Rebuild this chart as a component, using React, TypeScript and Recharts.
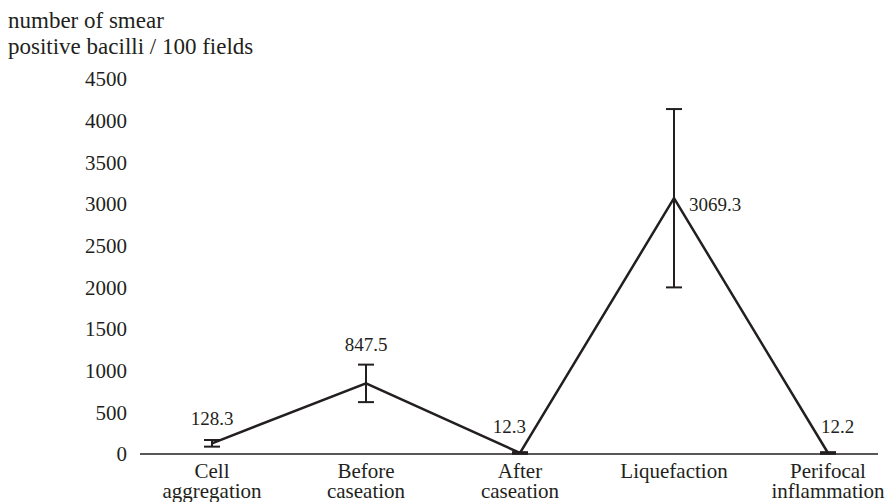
import { ErrorBar, LabelList, Line, LineChart, XAxis, YAxis } from "recharts";

const categories = ["Cell aggregation", "Before caseation", "After caseation", "Liquefaction", "Perifocal inflammation"];
const bacilli = [128.3, 847.5, 12.3, 3069.3, 12.2];
const errors = [40, 225, 10, 1070, 10];
const yTicks = [0, 500, 1000, 1500, 2000, 2500, 3000, 3500, 4000, 4500];

const data = categories.map((name, i) => ({ name, value: bacilli[i], err: errors[i] }));

const FONT = "'Liberation Serif', 'DejaVu Serif', serif";
const INK = "#231f20";

// where each value label sits relative to its point
const labelPlacement = [
  { dx: 0, dy: -18, anchor: "middle" },
  { dx: 0, dy: -32, anchor: "middle" },
  { dx: 6, dy: -20, anchor: "end" },
  { dx: 15, dy: 13, anchor: "start" },
  { dx: -7, dy: -20, anchor: "start" },
];

function ValueLabel(props: any) {
  const { x, y, index, value } = props;
  const p = labelPlacement[index];
  return (
    <text x={x + p.dx} y={y + p.dy} textAnchor={p.anchor} fontSize={19} fontFamily={FONT} fill={INK}>
      {value}
    </text>
  );
}

function CategoryTick(props: any) {
  const { x, y, payload } = props;
  const lines = String(payload.value).split(" ");
  return (
    <text x={x} y={y} textAnchor="middle" fontSize={21} fontFamily={FONT} fill={INK}>
      {lines.map((line, i) => (
        <tspan key={i} x={x} dy={i === 0 ? 16 : 20}>
          {line}
        </tspan>
      ))}
    </text>
  );
}

export default function App() {
  return (
    <div style={{ position: "absolute", left: 0, top: 0, width: 892, height: 502, background: "#fff" }}>
      <div
        style={{
          position: "absolute",
          left: 8,
          top: 8,
          fontFamily: FONT,
          fontSize: 23,
          lineHeight: "26px",
          color: INK,
        }}
      >
        number of smear
        <br />
        positive bacilli / 100 fields
      </div>
      <LineChart width={892} height={502} data={data} margin={{ top: 79, right: 14, bottom: 0, left: 0 }}>
        <XAxis
          dataKey="name"
          height={48}
          padding={{ left: 72, right: 50 }}
          axisLine={{ stroke: INK, strokeWidth: 1.5 }}
          tickLine={false}
          tick={<CategoryTick />}
          interval={0}
        />
        <YAxis
          width={140}
          domain={[0, 4500]}
          ticks={yTicks}
          axisLine={false}
          tickLine={false}
          tickMargin={7}
          tick={{ fontSize: 21, fontFamily: FONT, fill: INK }}
        />
        <Line
          type="linear"
          dataKey="value"
          stroke={INK}
          strokeWidth={2.5}
          dot={false}
          isAnimationActive={false}
        >
          <ErrorBar dataKey="err" width={8} stroke={INK} strokeWidth={2} isAnimationActive={false} />
          <LabelList dataKey="value" content={<ValueLabel />} />
        </Line>
      </LineChart>
    </div>
  );
}
